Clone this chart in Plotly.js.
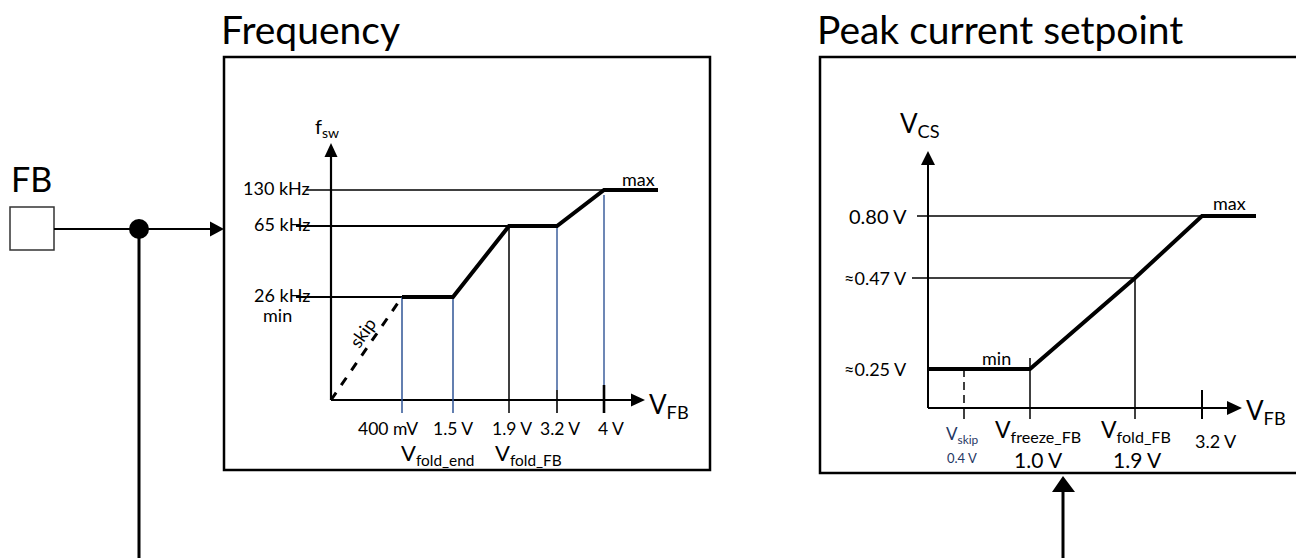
<!DOCTYPE html>
<html>
<head>
<meta charset="utf-8">
<script src="https://cdn.plot.ly/plotly-3.0.1.min.js"></script>
<style>html,body{margin:0;padding:0;background:#fff;}#chart{width:1296px;height:558px;}</style>
</head>
<body>
<div id="chart"></div>
<script>
// ---------------- DATA ----------------
// Frequency chart
const fswLevels = [26, 65, 130];                       // kHz
const fswLevelLabels = ['26 kHz', '65 kHz', '130 kHz'];
const freqVfb = [0.4, 1.5, 1.9, 3.2, 4.0];             // V
const freqVfbLabels = ['400 mV', '1.5 V', '1.9 V', '3.2 V', '4 V'];
const freqVfbNames = ['', 'V<sub>fold_end</sub>', 'V<sub>fold_FB</sub>', '', ''];
const fswCurveV = [0.4, 1.5, 1.9, 3.2, 4.0];           // V
const fswCurveF = [26, 26, 65, 65, 130];               // kHz

// Peak current chart
const vcsLevels = [0.25, 0.47, 0.80];                  // V
const vcsLevelLabels = ['≈0.25 V', '≈0.47 V', '0.80 V'];
const csVfb = [0.4, 1.0, 1.9, 3.2];                    // V
const csVfbLabels = ['0.4 V', '1.0 V', '1.9 V', '3.2 V'];
const csVfbNames = ['V<sub>skip</sub>', 'V<sub>freeze_FB</sub>', 'V<sub>fold_FB</sub>', ''];
const vcsCurveV = [0, 1.0, 1.9, 3.2];                  // V
const vcsCurveCs = [0.25, 0.25, 0.47, 0.80];           // V

// ---------------- LAYOUT (schematic positions, not to scale) ----------------
const W = 1296, H = 558;
const PX = x => x / W, PY = y => 1 - y / H;
const FONT = 'Lato, "Open Sans", sans-serif';
const BLUE = '#2f5496';

const FQ = {
  ox: 331, oy: 400, box: [224, 57, 710, 470],
  x: {'0': 0, '0.4': 71, '1.5': 122, '1.9': 178, '3.2': 226, '4': 273},
  y: {'0': 0, '26': 103, '65': 174, '130': 210},
  xEnd: 327, xTip: 314, yTip: 257, refStart: {'26': -35, '65': -35, '130': -25},
  refWidth: {'26': 2, '65': 2, '130': 1.3}, tickBottom: -13
};
const CS = {
  ox: 928, oy: 408, box: [820, 57, 1310, 473],
  x: {'0': 0, '0.4': 36, '1.0': 102, '1': 102, '1.9': 207, '3.2': 274},
  y: {'0': 0, '0.25': 39, '0.47': 130, '0.8': 192},
  xEnd: 328, xTip: 314, yTip: 257, refStart: {'0.47': -16, '0.8': -11}, tickBottom: -11
};
const fqx = v => FQ.x[String(v)], fqy = v => FQ.y[String(v)];
const csx = v => CS.x[String(v)], csy = v => CS.y[String(v)];

const traces = [];
function seg(xs, ys, axis, color, width, dash) {
  traces.push({type: 'scatter', mode: 'lines', x: xs, y: ys, xaxis: axis[0], yaxis: axis[1],
    line: {color: color, width: width, dash: dash || 'solid'}, hoverinfo: 'skip', showlegend: false});
}
const A1 = ['x', 'y'], A2 = ['x2', 'y2'];

// ---- Frequency chart traces ----
seg([0, 0], [0, FQ.yTip - 12], A1, '#000', 2.2);
seg([0, FQ.xTip - 12], [0, 0], A1, '#000', 2.2);
fswLevels.forEach(f => {
  const i = fswCurveF.indexOf(f);
  seg([FQ.refStart[String(f)], fqx(fswCurveV[i])], [fqy(f), fqy(f)], A1, '#000', FQ.refWidth[String(f)]);
});
const fqVColor = {'0.4': BLUE, '1.5': BLUE, '1.9': '#000', '3.2': BLUE, '4': BLUE};
freqVfb.forEach((v, i) => {
  const top = fqy(fswCurveF[fswCurveV.indexOf(v)]) - (v === 4.0 ? 5 : 0);
  const c = fqVColor[String(v)];
  if (c === BLUE && (v === 3.2 || v === 4.0)) {
    const split = v === 4.0 ? 15 : 10;
    seg([fqx(v), fqx(v)], [top, split], A1, BLUE, 1.4);
    seg([fqx(v), fqx(v)], [split, FQ.tickBottom], A1, '#000', v === 4.0 ? 2.6 : 1.6);
  } else {
    seg([fqx(v), fqx(v)], [top, FQ.tickBottom], A1, c, 1.5);
  }
});
seg([0, fqx(fswCurveV[0])], [0, fqy(fswCurveF[0])], A1, '#000', 3, '9px,9px');
seg(fswCurveV.map(fqx).concat([FQ.xEnd]), fswCurveF.map(fqy).concat([fqy(fswCurveF[fswCurveF.length - 1])]), A1, '#000', 4);

// ---- Peak current traces ----
seg([0, 0], [0, CS.yTip - 12], A2, '#000', 2);
seg([0, CS.xTip - 12], [0, 0], A2, '#000', 2);
vcsLevels.forEach(l => {
  const k = String(l);
  if (CS.refStart[k] === undefined) return;
  const i = vcsCurveCs.indexOf(l);
  seg([CS.refStart[k], csx(vcsCurveV[i])], [csy(l), csy(l)], A2, '#000', 1.5);
});
csVfb.forEach(v => {
  const x = csx(v);
  if (v === 0.4) {
    seg([x, x], [csy(vcsCurveCs[0]), 0], A2, '#000', 1.5, '8px,5px');
    seg([x, x], [0, CS.tickBottom], A2, '#000', 1.5);
  } else if (v === 3.2) {
    seg([x, x], [18, CS.tickBottom], A2, '#000', 2);
  } else {
    const i = vcsCurveV.indexOf(v);
    const top = v === 1.0 ? csy(vcsCurveCs[i]) + 11 : csy(vcsCurveCs[i]);
    seg([x, x], [top, CS.tickBottom], A2, '#000', 1.5);
  }
});
seg(vcsCurveV.map(csx).concat([CS.xEnd]), vcsCurveCs.map(csy).concat([csy(vcsCurveCs[vcsCurveCs.length - 1])]), A2, '#000', 4);

// ---------------- SHAPES ----------------
const shapes = [];
const line = (x0, y0, x1, y1, w) => shapes.push({type: 'line', xref: 'paper', yref: 'paper',
  x0: PX(x0), y0: PY(y0), x1: PX(x1), y1: PY(y1), line: {color: '#000', width: w}});
function tri(xref, yref, pts) {
  shapes.push({type: 'path', xref: xref, yref: yref, path: 'M ' + pts.map(p => p.join(',')).join(' L ') + ' Z',
    fillcolor: '#000', line: {color: '#000', width: 0}});
}
[FQ.box, CS.box].forEach(b => shapes.push({type: 'rect', xref: 'paper', yref: 'paper',
  x0: PX(b[0]), y0: PY(b[3]), x1: PX(b[2]), y1: PY(b[1]), line: {color: '#000', width: 2.5}}));
shapes.push({type: 'rect', xref: 'paper', yref: 'paper', x0: PX(10), y0: PY(250), x1: PX(54), y1: PY(207),
  line: {color: '#333', width: 1.5}, fillcolor: '#fff'});
line(54, 229, 212, 229, 2);
line(139, 229, 139, 570, 3);
shapes.push({type: 'circle', xref: 'paper', yref: 'paper', x0: PX(129), y0: PY(239), x1: PX(149), y1: PY(219),
  fillcolor: '#000', line: {color: '#000', width: 0}});
tri('paper', 'paper', [[PX(224), PY(229)], [PX(210), PY(221.5)], [PX(210), PY(236.5)]]);
line(1063, 490, 1063, 570, 3);
tri('paper', 'paper', [[PX(1063), PY(476)], [PX(1052), PY(492)], [PX(1075), PY(492)]]);
tri('x', 'y', [[0, FQ.yTip], [-6.5, FQ.yTip - 14], [6.5, FQ.yTip - 14]]);
tri('x', 'y', [[FQ.xTip, 0], [FQ.xTip - 14, 6.5], [FQ.xTip - 14, -6.5]]);
tri('x2', 'y2', [[0, CS.yTip], [-7, CS.yTip - 14], [7, CS.yTip - 14]]);
tri('x2', 'y2', [[CS.xTip, 0], [CS.xTip - 15, 7], [CS.xTip - 15, -7]]);

// ---------------- ANNOTATIONS ----------------
const anns = [];
function ann(xref, yref, x, y, text, size, opts) {
  anns.push(Object.assign({xref: xref, yref: yref, x: x, y: y, text: text, showarrow: false, borderpad: 0,
    font: {family: FONT, size: size, color: '#000'}, xanchor: 'center', yanchor: 'middle'}, opts || {}));
}
ann('paper', 'paper', PX(220), PY(29), 'Frequency', 39, {xanchor: 'left'});
ann('paper', 'paper', PX(816), PY(29), 'Peak current setpoint', 39, {xanchor: 'left'});
ann('paper', 'paper', PX(10), PY(179), 'FB', 34, {xanchor: 'left'});

// Frequency chart labels
ann('x', 'y', -4, 273, 'f<sub>sw</sub>', 20);
fswLevels.forEach((f, i) => ann('x', 'y', -20, fqy(f) + 2, fswLevelLabels[i], 18, {xanchor: 'right'}));
ann('x', 'y', -54, fqy(fswLevels[0]) - 18, 'min', 18);
ann('x', 'y', 307, fqy(fswLevels[2]) + 11, 'max', 18);
ann('x', 'y', 31, 67, 'skip', 18, {textangle: -55});
ann('x', 'y', 317, -5, 'V<sub>FB</sub>', 26, {xanchor: 'left'});
const fqLabShift = [-14, 0, 3, 3, 7], fqNameShift = [0, -16, 19, 0, 0];
freqVfb.forEach((v, i) => {
  ann('x', 'y', fqx(v), -28, freqVfbLabels[i], 17.5, {xshift: fqLabShift[i]});
  if (freqVfbNames[i]) ann('x', 'y', fqx(v), -54, freqVfbNames[i], 22, {xshift: fqNameShift[i]});
});

// Peak current labels
ann('x2', 'y2', -8, 284, 'V<sub>CS</sub>', 26);
const csLevSize = [18, 18, 20];
vcsLevels.forEach((l, i) => ann('x2', 'y2', -20, csy(l), vcsLevelLabels[i], csLevSize[i], {xanchor: 'right'}));
ann('x2', 'y2', 68, csy(vcsLevels[0]) + 11, 'min', 18);
ann('x2', 'y2', 301, csy(vcsLevels[2]) + 13, 'max', 18);
ann('x2', 'y2', 317, -3, 'V<sub>FB</sub>', 26, {xanchor: 'left'});
const csNameSize = [17, 23, 23, 0], csLabSize = [13, 21, 21, 18];
const csNameShift = [-2, 8, 1, 0], csLabShift = [-2, 8, 2, 14];
const csNameY = [-27, -22, -22], csLabY = [-50, -51, -51];
csVfb.forEach((v, i) => {
  if (csVfbNames[i]) {
    ann('x2', 'y2', csx(v), csNameY[i], csVfbNames[i], csNameSize[i], {xshift: csNameShift[i],
      font: {family: FONT, size: csNameSize[i], color: i === 0 ? '#1f3864' : '#000'}});
    ann('x2', 'y2', csx(v), csLabY[i], csVfbLabels[i], csLabSize[i], {xshift: csLabShift[i],
      font: {family: FONT, size: csLabSize[i], color: i === 0 ? '#1f3864' : '#000'}});
  } else {
    ann('x2', 'y2', csx(v), -33, csVfbLabels[i], csLabSize[i], {xshift: csLabShift[i]});
  }
});

// ---------------- AXES ----------------
const hidden = {visible: false, fixedrange: true, showgrid: false, zeroline: false};
const layout = {
  width: W, height: H, margin: {l: 0, r: 0, t: 0, b: 0},
  paper_bgcolor: '#fff', plot_bgcolor: 'rgba(0,0,0,0)', showlegend: false,
  xaxis: Object.assign({domain: [PX(FQ.box[0]), PX(FQ.box[2])], range: [FQ.box[0] - FQ.ox, FQ.box[2] - FQ.ox]}, hidden),
  yaxis: Object.assign({domain: [PY(FQ.box[3]), PY(FQ.box[1])], range: [FQ.oy - FQ.box[3], FQ.oy - FQ.box[1]]}, hidden),
  xaxis2: Object.assign({domain: [PX(CS.box[0]), 1], range: [CS.box[0] - CS.ox, W - CS.ox], anchor: 'y2'}, hidden),
  yaxis2: Object.assign({domain: [PY(CS.box[3]), PY(CS.box[1])], range: [CS.oy - CS.box[3], CS.oy - CS.box[1]], anchor: 'x2'}, hidden),
  shapes: shapes, annotations: anns
};
Plotly.newPlot('chart', traces, layout, {displayModeBar: false, staticPlot: true});
</script>
</body>
</html>
